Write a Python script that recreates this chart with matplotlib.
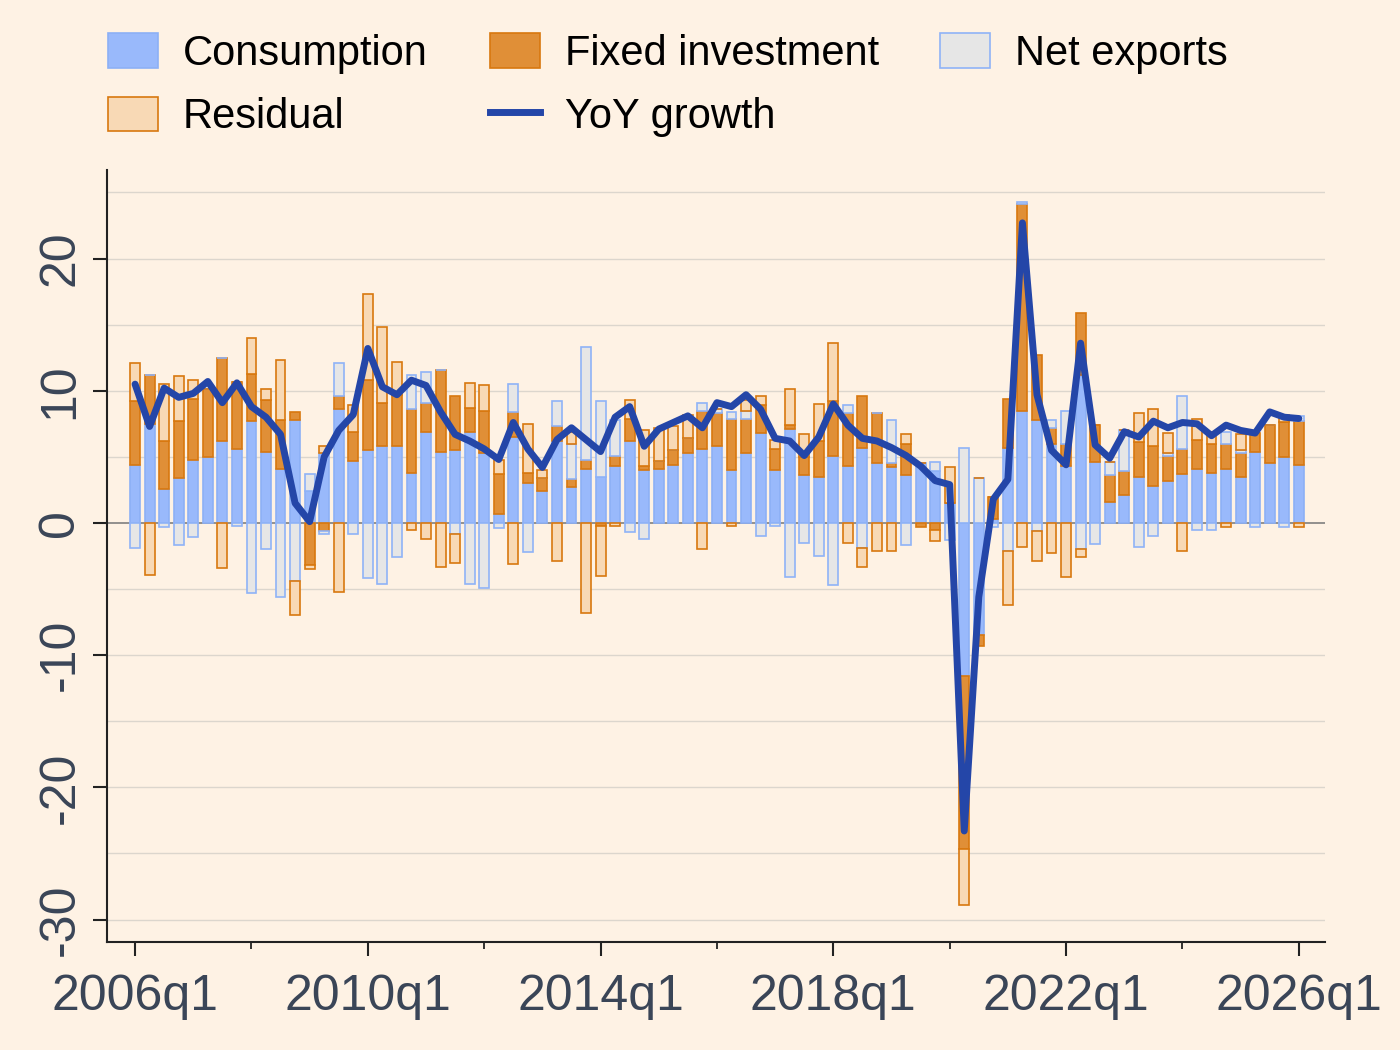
import matplotlib
matplotlib.use("Agg")
import matplotlib.pyplot as plt
from matplotlib.patches import Patch
from matplotlib.lines import Line2D
import numpy as np

plt.rcParams["font.family"] = ["Liberation Sans", "DejaVu Sans"]

# quarterly contributions to YoY growth, 2006q1 .. 2026q1
start_year = 2006
consumption = [
  4.4, 7.5, 2.6, 3.4, 4.8, 5.0, 6.2, 5.6, 7.7, 5.4, 4.1, 7.8, 2.4, 5.3, 8.6, 4.7,
  5.5, 5.8, 5.8, 3.8, 6.9, 5.4, 5.5, 6.9, 5.3, 0.7, 6.5, 3.0, 2.4, 6.2, 2.7, 4.1,
  3.5, 4.3, 6.2, 4.0, 4.1, 4.4, 5.3, 5.6, 5.8, 4.0, 5.3, 6.8, 4.0, 7.1, 3.6, 3.5,
  5.1, 4.3, 5.7, 4.5, 4.2, 3.6, 4.5, 3.9, 1.5, -11.6, -8.5, 0.3, 5.7, 8.5, 7.8, 6.0,
  4.3, 11.2, 4.6, 1.6, 2.1, 3.5, 2.8, 3.2, 3.7, 4.1, 3.8, 4.1, 3.5, 5.4, 4.5, 5.0,
  4.4,
]
fixed_investment = [
  4.8, 3.7, 3.6, 4.3, 4.6, 5.1, 6.3, 5.1, 3.6, 3.9, 3.7, 0.6, -3.2, -0.6, 1.0, 2.2,
  5.3, 3.3, 3.9, 4.8, 2.2, 6.2, 4.1, 1.8, 3.2, 3.0, 1.9, 0.8, 1.0, 1.1, 0.6, 0.7,
  -0.2, 0.8, 1.7, 0.3, 0.6, 1.1, 1.1, 2.9, 2.5, 3.9, 2.6, 2.1, 1.6, 0.3, 1.4, 2.7,
  4.1, 4.0, 3.9, 3.8, 0.3, 2.4, -0.3, -0.5, 0.0, -13.1, -0.8, 1.7, 3.7, 15.6, 4.9, 1.2,
  1.7, 4.7, 2.8, 2.0, 1.8, 2.6, 3.0, 1.9, 1.9, 2.2, 2.2, 1.9, 1.8, 1.4, 2.9, 2.6,
  3.3,
]
net_exports = [
  -1.9, 0.0, -0.3, -1.7, -1.1, 0.0, 0.0, -0.2, -5.3, -2.0, -5.6, -4.4, 1.3, -0.2, 2.5, -0.8,
  -4.2, -4.6, -2.6, 2.6, 2.3, 0.0, -0.8, -4.6, -4.9, -0.4, 2.1, -2.2, 0.0, 1.9, 2.7, 8.5,
  5.7, 2.7, -0.7, -1.2, 0.0, 0.0, 0.0, 0.6, 0.3, 0.5, 0.6, -1.0, -0.2, -4.1, -1.5, -2.5,
  -4.7, 0.6, -1.9, 0.0, 3.3, -1.7, 0.0, 0.7, -1.3, 5.7, 3.4, -0.3, -2.1, 0.2, -0.6, 0.6,
  2.5, -2.0, -1.6, 1.0, 3.1, -1.8, -1.0, 0.2, 4.0, -0.5, -0.5, 0.9, 0.2, -0.3, 0.0, -0.3,
  0.4,
]
residual = [
  2.9, -3.9, 4.3, 3.4, 1.4, 0.0, -3.4, 0.0, 2.7, 0.8, 4.5, -2.6, -0.3, 0.5, -5.2, 2.0,
  6.5, 5.7, 2.5, -0.5, -1.2, -3.3, -2.2, 1.9, 1.9, 1.1, -3.1, 3.7, 0.6, -2.9, 0.9, -6.8,
  -3.8, -0.2, 1.4, 2.7, 2.5, 1.8, 1.8, -2.0, 0.0, -0.2, 0.8, 0.7, 0.7, 2.7, 1.7, 2.8,
  4.4, -1.5, -1.4, -2.1, -2.1, 0.7, 0.0, -0.9, 2.7, -4.2, 0.0, 0.0, -4.1, -1.8, -2.3, -2.3,
  -4.1, -0.6, 0.0, 0.0, 0.0, 2.2, 2.8, 1.5, -2.1, 1.6, 0.9, -0.3, 1.2, 0.0, 0.0, 0.6,
  -0.3,
]
yoy_growth = [
  10.5, 7.3, 10.2, 9.5, 9.8, 10.7, 9.1, 10.6, 8.8, 8.0, 6.7, 1.5, 0.1, 5.0, 7.0, 8.2,
  13.2, 10.3, 9.7, 10.8, 10.4, 8.4, 6.7, 6.2, 5.6, 4.8, 7.6, 5.6, 4.2, 6.3, 7.2, 6.3,
  5.4, 8.0, 8.8, 5.8, 7.1, 7.6, 8.1, 7.2, 9.1, 8.8, 9.7, 8.6, 6.4, 6.2, 5.1, 6.5,
  9.0, 7.4, 6.4, 6.2, 5.7, 5.1, 4.3, 3.2, 2.9, -23.3, -5.6, 1.8, 3.3, 22.7, 9.7, 5.5,
  4.4, 13.6, 5.9, 4.9, 6.9, 6.5, 7.7, 7.2, 7.6, 7.5, 6.6, 7.4, 7.0, 6.8, 8.4, 8.0,
  7.9,
]

series = [
  ("Consumption", consumption, "#99b9fb", "#8cb0f6"),
  ("Fixed investment", fixed_investment, "#e08f37", "#d8780f"),
  ("Net exports", net_exports, "#e6e6e6", "#8fb3f7"),
  ("Residual", residual, "#f8d9b5", "#d8780f"),
]

BG = "#fef2e4"
LINE_COLOR = "#2446a8"
TEXT_COLOR = "#3a4557"

n = len(yoy_growth)
x = np.arange(n)

fig, ax = plt.subplots(figsize=(14, 10.5), dpi=100)
fig.patch.set_facecolor(BG)
ax.set_facecolor(BG)
fig.subplots_adjust(left=107 / 1400, right=1325 / 1400, bottom=1 - 942 / 1050, top=1 - 170 / 1050)

pos_bottom = np.zeros(n)
neg_bottom = np.zeros(n)
handles = {}
for name, vals, face, edge in series:
  v = np.array(vals, dtype=float)
  bottom = np.where(v >= 0, pos_bottom, neg_bottom)
  ax.bar(x, v, bottom=bottom, width=0.68, color=face, edgecolor=edge, linewidth=1.2, zorder=3)
  pos_bottom = pos_bottom + np.where(v > 0, v, 0)
  neg_bottom = neg_bottom + np.where(v < 0, v, 0)
  handles[name] = Patch(facecolor=face, edgecolor=edge, linewidth=1.2)

ax.plot(x, yoy_growth, color=LINE_COLOR, linewidth=5, solid_joinstyle="round",
        solid_capstyle="round", zorder=5)
handles["YoY growth"] = Line2D([], [], color=LINE_COLOR, linewidth=5)

# gridlines every 5, darker zero line
for g in np.arange(-30, 26, 5):
  if g == 0:
    continue
  ax.axhline(g, color="#dcd6cd", linewidth=1.0, zorder=1)
ax.axhline(0, color="#7f7f7f", linewidth=1.2, zorder=2)

ax.set_ylim(-31.7, 26.7)
ax.set_xlim(-1.93, 81.8)

ax.set_yticks(np.arange(-30, 21, 10))
ax.set_yticklabels(["-30", "-20", "-10", "0", "10", "20"], rotation=90, va="center",
                   fontsize=36, color=TEXT_COLOR)
major = np.arange(0, n, 16)
ax.set_xticks(major)
ax.set_xticklabels([f"{start_year + i // 4}q1" for i in major], fontsize=36, color=TEXT_COLOR)
ax.set_xticks(np.arange(8, n, 16), minor=True)
ax.tick_params(axis="both", which="major", length=10, width=1.5, color="#222222")
ax.tick_params(axis="x", which="major", pad=13)
ax.tick_params(axis="y", which="major", pad=7)
ax.tick_params(axis="x", which="minor", length=5, width=1.3, color="#222222")

for side in ["top", "right"]:
  ax.spines[side].set_visible(False)
for side in ["left", "bottom"]:
  ax.spines[side].set_linewidth(1.5)
  ax.spines[side].set_color("#222222")

order = ["Consumption", "Residual", "Fixed investment", "YoY growth", "Net exports"]
fig.legend(
  [handles[k] for k in order],
  order,
  loc="upper left",
  bbox_to_anchor=(108 / 1400, 1 - 33 / 1050),
  borderaxespad=0,
  borderpad=0,
  ncol=3,
  frameon=False,
  fontsize=30,
  handlelength=1.2,
  handleheight=0.9,
  handletextpad=0.6,
  columnspacing=1.48,
  labelspacing=0.55,
)

fig.savefig("out.png", dpi=100, facecolor=BG)
